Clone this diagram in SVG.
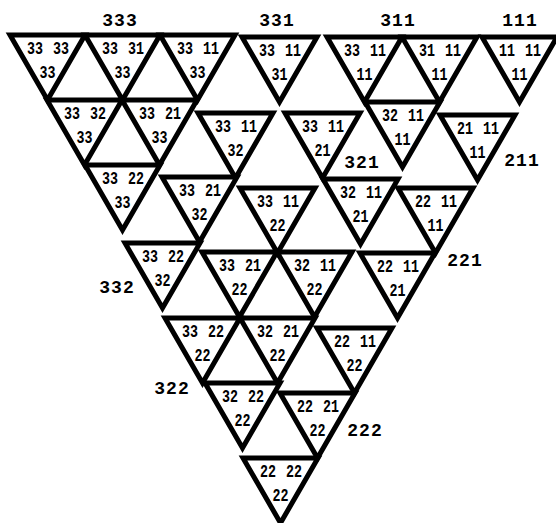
<svg xmlns="http://www.w3.org/2000/svg" xmlns:xlink="http://www.w3.org/1999/xlink" width="556" height="523" viewBox="0 0 556 523">
<style>
.t{fill:none;stroke:#000;stroke-width:5;stroke-linejoin:miter;stroke-miterlimit:10}
.n{font-family:"Liberation Mono","DejaVu Sans Mono",monospace;font-weight:bold;font-size:18px;fill:#000;text-anchor:middle}
.g{font-family:"Liberation Mono","DejaVu Sans Mono",monospace;font-weight:bold;font-size:18px;fill:#000;text-anchor:middle;letter-spacing:1px}
</style>
<defs>
<polygon id="tri" class="t" points="0,0 75,0 37.5,65"/>
</defs>
<rect width="556" height="523" fill="#fff"/>
<g id="connectors"/>
<g id="t1" transform="translate(10,35)"><use xlink:href="#tri"/><text class="n" x="25" y="19" textLength="16" lengthAdjust="spacingAndGlyphs">33</text><text class="n" x="51" y="19" textLength="16" lengthAdjust="spacingAndGlyphs">33</text><text class="n" x="37.5" y="43" textLength="16" lengthAdjust="spacingAndGlyphs">33</text></g>
<g id="t2" transform="translate(85,35)"><use xlink:href="#tri"/><text class="n" x="25" y="19" textLength="16" lengthAdjust="spacingAndGlyphs">33</text><text class="n" x="51" y="19" textLength="16" lengthAdjust="spacingAndGlyphs">31</text><text class="n" x="37.5" y="43" textLength="16" lengthAdjust="spacingAndGlyphs">33</text></g>
<g id="t3" transform="translate(160,35)"><use xlink:href="#tri"/><text class="n" x="25" y="19" textLength="16" lengthAdjust="spacingAndGlyphs">33</text><text class="n" x="51" y="19" textLength="16" lengthAdjust="spacingAndGlyphs">11</text><text class="n" x="37.5" y="43" textLength="16" lengthAdjust="spacingAndGlyphs">33</text></g>
<g id="t4" transform="translate(47,100)"><use xlink:href="#tri"/><text class="n" x="25" y="19" textLength="16" lengthAdjust="spacingAndGlyphs">33</text><text class="n" x="51" y="19" textLength="16" lengthAdjust="spacingAndGlyphs">32</text><text class="n" x="37.5" y="43" textLength="16" lengthAdjust="spacingAndGlyphs">33</text></g>
<g id="t5" transform="translate(122,100)"><use xlink:href="#tri"/><text class="n" x="25" y="19" textLength="16" lengthAdjust="spacingAndGlyphs">33</text><text class="n" x="51" y="19" textLength="16" lengthAdjust="spacingAndGlyphs">21</text><text class="n" x="37.5" y="43" textLength="16" lengthAdjust="spacingAndGlyphs">33</text></g>
<g id="t6" transform="translate(85,165)"><use xlink:href="#tri"/><text class="n" x="25" y="19" textLength="16" lengthAdjust="spacingAndGlyphs">33</text><text class="n" x="51" y="19" textLength="16" lengthAdjust="spacingAndGlyphs">22</text><text class="n" x="37.5" y="43" textLength="16" lengthAdjust="spacingAndGlyphs">33</text></g>
<g id="t7" transform="translate(242,37)"><use xlink:href="#tri"/><text class="n" x="25" y="19" textLength="16" lengthAdjust="spacingAndGlyphs">33</text><text class="n" x="51" y="19" textLength="16" lengthAdjust="spacingAndGlyphs">11</text><text class="n" x="37.5" y="43" textLength="16" lengthAdjust="spacingAndGlyphs">31</text></g>
<g id="t8" transform="translate(327,37)"><use xlink:href="#tri"/><text class="n" x="25" y="19" textLength="16" lengthAdjust="spacingAndGlyphs">33</text><text class="n" x="51" y="19" textLength="16" lengthAdjust="spacingAndGlyphs">11</text><text class="n" x="37.5" y="43" textLength="16" lengthAdjust="spacingAndGlyphs">11</text></g>
<g id="t9" transform="translate(402,37)"><use xlink:href="#tri"/><text class="n" x="25" y="19" textLength="16" lengthAdjust="spacingAndGlyphs">31</text><text class="n" x="51" y="19" textLength="16" lengthAdjust="spacingAndGlyphs">11</text><text class="n" x="37.5" y="43" textLength="16" lengthAdjust="spacingAndGlyphs">11</text></g>
<g id="t10" transform="translate(365,102)"><use xlink:href="#tri"/><text class="n" x="25" y="19" textLength="16" lengthAdjust="spacingAndGlyphs">32</text><text class="n" x="51" y="19" textLength="16" lengthAdjust="spacingAndGlyphs">11</text><text class="n" x="37.5" y="43" textLength="16" lengthAdjust="spacingAndGlyphs">11</text></g>
<g id="t11" transform="translate(482,37)"><use xlink:href="#tri"/><text class="n" x="25" y="19" textLength="16" lengthAdjust="spacingAndGlyphs">11</text><text class="n" x="51" y="19" textLength="16" lengthAdjust="spacingAndGlyphs">11</text><text class="n" x="37.5" y="43" textLength="16" lengthAdjust="spacingAndGlyphs">11</text></g>
<g id="t12" transform="translate(198,113)"><use xlink:href="#tri"/><text class="n" x="25" y="19" textLength="16" lengthAdjust="spacingAndGlyphs">33</text><text class="n" x="51" y="19" textLength="16" lengthAdjust="spacingAndGlyphs">11</text><text class="n" x="37.5" y="43" textLength="16" lengthAdjust="spacingAndGlyphs">32</text></g>
<g id="t13" transform="translate(285,113)"><use xlink:href="#tri"/><text class="n" x="25" y="19" textLength="16" lengthAdjust="spacingAndGlyphs">33</text><text class="n" x="51" y="19" textLength="16" lengthAdjust="spacingAndGlyphs">11</text><text class="n" x="37.5" y="43" textLength="16" lengthAdjust="spacingAndGlyphs">21</text></g>
<g id="t14" transform="translate(440,115)"><use xlink:href="#tri"/><text class="n" x="25" y="19" textLength="16" lengthAdjust="spacingAndGlyphs">21</text><text class="n" x="51" y="19" textLength="16" lengthAdjust="spacingAndGlyphs">11</text><text class="n" x="37.5" y="43" textLength="16" lengthAdjust="spacingAndGlyphs">11</text></g>
<g id="t15" transform="translate(162,177)"><use xlink:href="#tri"/><text class="n" x="25" y="19" textLength="16" lengthAdjust="spacingAndGlyphs">33</text><text class="n" x="51" y="19" textLength="16" lengthAdjust="spacingAndGlyphs">21</text><text class="n" x="37.5" y="43" textLength="16" lengthAdjust="spacingAndGlyphs">32</text></g>
<g id="t16" transform="translate(240,188)"><use xlink:href="#tri"/><text class="n" x="25" y="19" textLength="16" lengthAdjust="spacingAndGlyphs">33</text><text class="n" x="51" y="19" textLength="16" lengthAdjust="spacingAndGlyphs">11</text><text class="n" x="37.5" y="43" textLength="16" lengthAdjust="spacingAndGlyphs">22</text></g>
<g id="t17" transform="translate(323,179)"><use xlink:href="#tri"/><text class="n" x="25" y="19" textLength="16" lengthAdjust="spacingAndGlyphs">32</text><text class="n" x="51" y="19" textLength="16" lengthAdjust="spacingAndGlyphs">11</text><text class="n" x="37.5" y="43" textLength="16" lengthAdjust="spacingAndGlyphs">21</text></g>
<g id="t18" transform="translate(398,188)"><use xlink:href="#tri"/><text class="n" x="25" y="19" textLength="16" lengthAdjust="spacingAndGlyphs">22</text><text class="n" x="51" y="19" textLength="16" lengthAdjust="spacingAndGlyphs">11</text><text class="n" x="37.5" y="43" textLength="16" lengthAdjust="spacingAndGlyphs">11</text></g>
<g id="t19" transform="translate(125,243)"><use xlink:href="#tri"/><text class="n" x="25" y="19" textLength="16" lengthAdjust="spacingAndGlyphs">33</text><text class="n" x="51" y="19" textLength="16" lengthAdjust="spacingAndGlyphs">22</text><text class="n" x="37.5" y="43" textLength="16" lengthAdjust="spacingAndGlyphs">32</text></g>
<g id="t20" transform="translate(202,252)"><use xlink:href="#tri"/><text class="n" x="25" y="19" textLength="16" lengthAdjust="spacingAndGlyphs">33</text><text class="n" x="51" y="19" textLength="16" lengthAdjust="spacingAndGlyphs">21</text><text class="n" x="37.5" y="43" textLength="16" lengthAdjust="spacingAndGlyphs">22</text></g>
<g id="t21" transform="translate(277,252)"><use xlink:href="#tri"/><text class="n" x="25" y="19" textLength="16" lengthAdjust="spacingAndGlyphs">32</text><text class="n" x="51" y="19" textLength="16" lengthAdjust="spacingAndGlyphs">11</text><text class="n" x="37.5" y="43" textLength="16" lengthAdjust="spacingAndGlyphs">22</text></g>
<g id="t22" transform="translate(360,253)"><use xlink:href="#tri"/><text class="n" x="25" y="19" textLength="16" lengthAdjust="spacingAndGlyphs">22</text><text class="n" x="51" y="19" textLength="16" lengthAdjust="spacingAndGlyphs">11</text><text class="n" x="37.5" y="43" textLength="16" lengthAdjust="spacingAndGlyphs">21</text></g>
<g id="t23" transform="translate(165,318)"><use xlink:href="#tri"/><text class="n" x="25" y="19" textLength="16" lengthAdjust="spacingAndGlyphs">33</text><text class="n" x="51" y="19" textLength="16" lengthAdjust="spacingAndGlyphs">22</text><text class="n" x="37.5" y="43" textLength="16" lengthAdjust="spacingAndGlyphs">22</text></g>
<g id="t24" transform="translate(240,318)"><use xlink:href="#tri"/><text class="n" x="25" y="19" textLength="16" lengthAdjust="spacingAndGlyphs">32</text><text class="n" x="51" y="19" textLength="16" lengthAdjust="spacingAndGlyphs">21</text><text class="n" x="37.5" y="43" textLength="16" lengthAdjust="spacingAndGlyphs">22</text></g>
<g id="t25" transform="translate(317,328)"><use xlink:href="#tri"/><text class="n" x="25" y="19" textLength="16" lengthAdjust="spacingAndGlyphs">22</text><text class="n" x="51" y="19" textLength="16" lengthAdjust="spacingAndGlyphs">11</text><text class="n" x="37.5" y="43" textLength="16" lengthAdjust="spacingAndGlyphs">22</text></g>
<g id="t26" transform="translate(205,383)"><use xlink:href="#tri"/><text class="n" x="25" y="19" textLength="16" lengthAdjust="spacingAndGlyphs">32</text><text class="n" x="51" y="19" textLength="16" lengthAdjust="spacingAndGlyphs">22</text><text class="n" x="37.5" y="43" textLength="16" lengthAdjust="spacingAndGlyphs">22</text></g>
<g id="t27" transform="translate(280,393)"><use xlink:href="#tri"/><text class="n" x="25" y="19" textLength="16" lengthAdjust="spacingAndGlyphs">22</text><text class="n" x="51" y="19" textLength="16" lengthAdjust="spacingAndGlyphs">21</text><text class="n" x="37.5" y="43" textLength="16" lengthAdjust="spacingAndGlyphs">22</text></g>
<g id="t28" transform="translate(243,458)"><use xlink:href="#tri"/><text class="n" x="25" y="19" textLength="16" lengthAdjust="spacingAndGlyphs">22</text><text class="n" x="51" y="19" textLength="16" lengthAdjust="spacingAndGlyphs">22</text><text class="n" x="37.5" y="43" textLength="16" lengthAdjust="spacingAndGlyphs">22</text></g>
<g id="labels">
<text class="g" x="120" y="26">333</text>
<text class="g" x="277" y="26">331</text>
<text class="g" x="398" y="26">311</text>
<text class="g" x="520" y="26">111</text>
<text class="g" x="362" y="168">321</text>
<text class="g" x="522" y="166">211</text>
<text class="g" x="465" y="266">221</text>
<text class="g" x="117" y="293">332</text>
<text class="g" x="172" y="394">322</text>
<text class="g" x="365" y="436">222</text>
</g>
</svg>
